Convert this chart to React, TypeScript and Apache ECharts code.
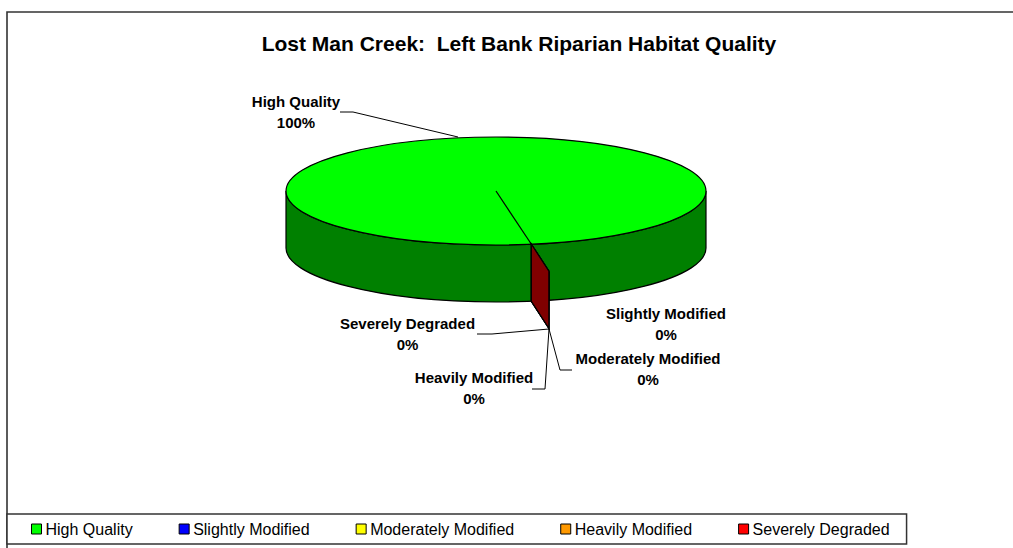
import React, { useEffect, useRef } from "react";
import * as echarts from "echarts";

const titleText = "Lost Man Creek:  Left Bank Riparian Habitat Quality";
const categories = ["High Quality", "Slightly Modified", "Moderately Modified", "Heavily Modified", "Severely Degraded"];
const values = [100, 0, 0, 0, 0];
const topColors = ["#00FF00", "#0000FF", "#FFFF00", "#FF9900", "#FF0000"];
const sideColors = ["#008000", "#000080", "#808000", "#804C00", "#800000"];

// Layout of the tilted pie, in pixels
const cx = 496, cy = 191, rx = 210, ry = 54, depth = 57;
const startDeg = 80.3;
const wallDx = 17.5, wallDy = 27;
const FONT = "'Liberation Sans', Arial, sans-serif";

// Label centres and leader lines, by category index
const labelPos = [[296, 111.5], [666, 323.5], [648, 369], [474, 388], [407.5, 333.5]];
const leaders: number[][][] = [
  [[340, 112], [353, 112], [458, 137]],
  [],
  [[572, 370], [560, 370], [549, 329]],
  [[532, 389], [545, 389], [549, 329]],
  [[477, 334], [492, 334], [549, 329]],
];

const total = values.reduce((a, b) => a + b, 0);

function makeRenderItem(index: number) {
  return () => {
    const value = values[index];
    const before = values.slice(0, index).reduce((a, b) => a + b, 0);
    const a0 = ((startDeg + (before / total) * 360) * Math.PI) / 180;
    const px = cx + rx * Math.cos(a0);
    const py = cy + ry * Math.sin(a0);
    const strokeStyle = { stroke: "#000", lineWidth: 1.2 };
    const children: any[] = [];
    if (value > 0) {
      // side wall (front half of the rim), then the top face and the radial cut
      const wall = `M${cx - rx} ${cy}L${cx - rx} ${cy + depth}A${rx} ${ry} 0 0 0 ${cx + rx} ${cy + depth}L${cx + rx} ${cy}A${rx} ${ry} 0 0 1 ${cx - rx} ${cy}Z`;
      children.push({ type: "path", shape: { pathData: wall }, style: { fill: sideColors[index], ...strokeStyle } });
      children.push({ type: "ellipse", shape: { cx, cy, rx, ry }, style: { fill: topColors[index], ...strokeStyle } });
      children.push({ type: "line", shape: { x1: cx, y1: cy, x2: px, y2: py }, style: strokeStyle });
    } else {
      children.push({
        type: "polygon",
        shape: { points: [[px, py], [px + wallDx, py + wallDy], [px + wallDx, py + wallDy + depth], [px, py + depth]] },
        style: { fill: sideColors[index], ...strokeStyle },
      });
    }
    if (leaders[index].length) {
      children.push({ type: "polyline", shape: { points: leaders[index] }, style: { fill: "none", stroke: "#000", lineWidth: 1 }, z2: 5 });
    }
    children.push({
      type: "text",
      x: labelPos[index][0],
      y: labelPos[index][1],
      style: {
        text: `${categories[index]}\n${Math.round((value / total) * 100)}%`,
        font: `bold 15px ${FONT}`,
        lineHeight: 21,
        fill: "#000",
        align: "center",
        verticalAlign: "middle",
      },
      z2: 10,
    });
    return { type: "group", children };
  };
}

export default function App() {
  const ref = useRef<HTMLDivElement>(null);
  useEffect(() => {
    document.body.style.margin = "0";
    document.body.style.background = "#fff";
    const chart = echarts.init(ref.current!, null, { renderer: "svg" });
    chart.setOption({
      animation: false,
      backgroundColor: "#fff",
      title: {
        text: titleText,
        left: 519,
        top: 33,
        textAlign: "center",
        padding: 0,
        textStyle: { fontFamily: FONT, fontSize: 21, fontWeight: "bold", color: "#000" },
      },
      legend: {
        left: 7,
        top: 514,
        orient: "horizontal",
        data: categories,
        selectedMode: false,
        icon: "rect",
        itemWidth: 10,
        itemHeight: 10,
        itemGap: 46,
        padding: [7, 17, 7, 24],
        borderColor: "#333",
        borderWidth: 1.5,
        backgroundColor: "#fff",
        itemStyle: { borderColor: "#000", borderWidth: 1 },
        textStyle: { fontFamily: FONT, fontSize: 16, color: "#000", padding: [0, 0, 0, -1] },
      },
      graphic: [
        { type: "rect", silent: true, z: -1, shape: { x: 7, y: 12, width: 1100, height: 640 }, style: { fill: "none", stroke: "#333", lineWidth: 1.6 } },
      ],
      series: categories.map((name, i) => ({
        type: "custom",
        name,
        coordinateSystem: "none",
        data: [values[i]],
        itemStyle: { color: topColors[i] },
        renderItem: makeRenderItem(i),
        silent: true,
      })),
    });
    return () => chart.dispose();
  }, []);
  return <div ref={ref} style={{ width: 1013, height: 548, overflow: "hidden" }} />;
}
